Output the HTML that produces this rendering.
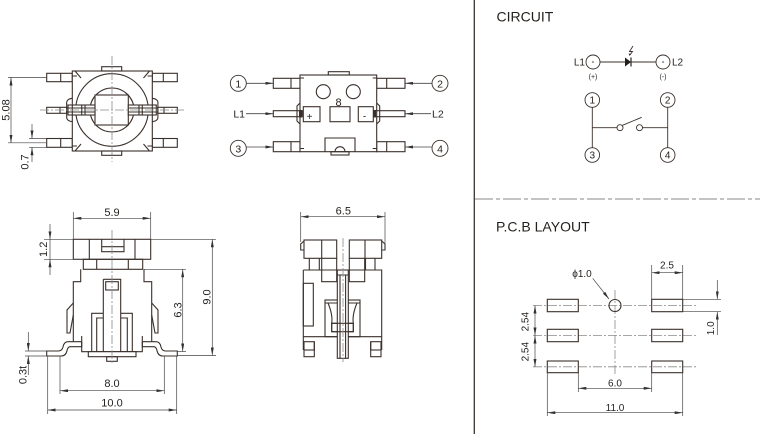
<!DOCTYPE html>
<html><head><meta charset="utf-8"><style>
html,body{margin:0;padding:0;background:#fff;}
svg{display:block}
text{font-family:"Liberation Sans",Arial,sans-serif;fill:#231f1c}
</style></head><body>
<svg width="760" height="434" viewBox="0 0 760 434" xmlns="http://www.w3.org/2000/svg">
<defs>
<marker id="a" viewBox="0 0 8 3" refX="8" refY="1.5" markerWidth="8" markerHeight="3" markerUnits="userSpaceOnUse" orient="auto-start-reverse"><path d="M0,0L8,1.5L0,3z" fill="#333"/></marker>
</defs>

<!-- dividers -->
<line x1="474.3" y1="0" x2="474.3" y2="434" stroke="#3a302b" stroke-width="1.3"/>
<line x1="475" y1="199" x2="760" y2="199" stroke="#8a8a8a" stroke-width="1" stroke-dasharray="18 3 4 3"/>

<!-- ============ TOP-LEFT VIEW ============ -->
<g fill="none" stroke="#3a302b" stroke-width="1.1">
  <rect x="46.7" y="73.3" width="25.6" height="8.4"/><line x1="60.7" y1="73.3" x2="60.7" y2="81.7"/>
  <rect x="152.3" y="73.3" width="25" height="8.4"/><line x1="163.3" y1="73.3" x2="163.3" y2="81.7"/>
  <rect x="46.7" y="138.5" width="25.6" height="8.8"/><line x1="60.7" y1="138.5" x2="60.7" y2="147.3"/>
  <rect x="152.3" y="138.5" width="25" height="8.8"/><line x1="163.3" y1="138.5" x2="163.3" y2="147.3"/>
  <rect x="72.3" y="71" width="80" height="80" fill="#fff"/>
  <rect x="101.7" y="66.7" width="20" height="4.3"/>
  <rect x="101.7" y="151" width="20" height="4.3"/>
  <path d="M75,71 L81,78 M149.5,71 L143.5,78 M75,151 L81,144 M149.5,151 L143.5,144"/>
  <path d="M72.3,76 H77 M147.5,76 H152.3 M72.3,146 H77 M147.5,146 H152.3"/>
  <circle cx="112" cy="110" r="36.3"/>
  <circle cx="112" cy="110" r="22"/>
  <rect x="95" y="95" width="33.3" height="30" fill="#fff"/>
  <!-- LED pins -->
  <rect x="46.7" y="107.3" width="20" height="6"/><line x1="60" y1="107.3" x2="60" y2="113.3"/>
  <rect x="157.7" y="107.3" width="19.6" height="6"/><line x1="164" y1="107.3" x2="164" y2="113.3"/>
  <path d="M72.3,98.3 Q66,99 66.7,104 V116 Q66,121 72.3,121.7"/>
  <path d="M152.3,98.3 Q158.6,99 157.9,104 V116 Q158.6,121 152.3,121.7"/>
  <rect x="68" y="105" width="27" height="10" fill="#fff"/>
  <path d="M68,108 H95 M68,112 H95 M81.7,105 V115 M85,105 V115 M72.3,105 V115"/>
  <rect x="128.3" y="105" width="28" height="10" fill="#fff"/>
  <path d="M128.3,108 H156.3 M128.3,112 H156.3 M139,105 V115 M142.3,105 V115 M152.3,105 V115"/>
</g>
<g fill="none" stroke="#8a8a8a" stroke-width="0.8" stroke-dasharray="9 2 2 2">
  <line x1="40" y1="110" x2="185" y2="110"/>
  <line x1="112" y1="56" x2="112" y2="162"/>
</g>
<g fill="none" stroke="#444" stroke-width="0.7">
  <line x1="8" y1="77.5" x2="46.7" y2="77.5"/>
  <line x1="8" y1="142.8" x2="46.7" y2="142.8"/>
  <line x1="11" y1="77.5" x2="11" y2="142.8" marker-start="url(#a)" marker-end="url(#a)"/>
  <line x1="29" y1="138.5" x2="46.7" y2="138.5"/>
  <line x1="29" y1="147.3" x2="46.7" y2="147.3"/>
  <line x1="32" y1="124" x2="32" y2="138.5" marker-end="url(#a)"/>
  <line x1="32" y1="162" x2="32" y2="147.3" marker-end="url(#a)"/>
</g>
<text font-size="11" text-anchor="middle" transform="translate(9.5,110) rotate(-90)">5.08</text>
<text font-size="11" text-anchor="middle" transform="translate(28.5,162) rotate(-90)">0.7</text>

<!-- ============ TOP-MIDDLE VIEW ============ -->
<g fill="none" stroke="#3a302b" stroke-width="1.1">
  <rect x="273.3" y="78.3" width="26.7" height="10"/><line x1="291" y1="78.3" x2="291" y2="88.3"/>
  <rect x="376.7" y="78.3" width="28.3" height="10"/><line x1="386.7" y1="78.3" x2="386.7" y2="88.3"/>
  <rect x="273.3" y="141.7" width="26.7" height="10"/><line x1="291" y1="141.7" x2="291" y2="151.7"/>
  <rect x="376.7" y="141.7" width="28.3" height="10"/><line x1="386.7" y1="141.7" x2="386.7" y2="151.7"/>
  <rect x="300" y="75" width="76.7" height="76.7" fill="#fff"/>
  <rect x="328.3" y="71.7" width="21" height="3.3"/>
  <path d="M300,78 H304 M372.7,78 H376.7 M300,148.5 H304 M372.7,148.5 H376.7"/>
  <path d="M300,103 L297,106 V121 L300,124 M376.7,103 L379.7,106 V121 L376.7,124"/>
  <circle cx="323.3" cy="91.7" r="7"/>
  <circle cx="353.3" cy="91.7" r="7"/>
  <rect x="303.3" y="106.7" width="16.7" height="15"/>
  <rect x="330" y="106.7" width="20" height="15"/>
  <rect x="358.3" y="106.7" width="15" height="15"/>
  <rect x="273.3" y="110.7" width="29" height="6"/>
  <rect x="374" y="110.7" width="31" height="6"/>
  <path d="M325,151.7 V138 H355 V151.7"/>
  <path d="M335,151.7 A5,5 0 0 1 345,151.7"/>
  <rect x="331" y="151.7" width="18" height="3.3"/>
</g>
<rect x="299" y="110" width="3" height="7.5" fill="#3a302b"/>
<rect x="373" y="110" width="3" height="7.5" fill="#3a302b"/>
<text x="338.5" y="106" font-size="11" text-anchor="middle">8</text>
<text x="309.5" y="120" font-size="10" text-anchor="middle">+</text>
<text x="364.5" y="119.5" font-size="10" text-anchor="middle">-</text>
<g fill="none" stroke="#3a302b" stroke-width="0.9">
  <circle cx="238.3" cy="83.3" r="8"/>
  <circle cx="440" cy="83.3" r="8"/>
  <circle cx="238.3" cy="148.3" r="8"/>
  <circle cx="440" cy="148.3" r="8"/>
</g>
<g fill="none" stroke="#444" stroke-width="0.8">
  <line x1="246.3" y1="83.3" x2="273.3" y2="83.3" marker-end="url(#a)"/>
  <line x1="432" y1="83.3" x2="405" y2="83.3" marker-end="url(#a)"/>
  <line x1="246.3" y1="147" x2="273.3" y2="147" marker-end="url(#a)"/>
  <line x1="432" y1="147" x2="405" y2="147" marker-end="url(#a)"/>
  <line x1="246" y1="113.7" x2="273.3" y2="113.7" marker-end="url(#a)"/>
  <line x1="431" y1="113.7" x2="405" y2="113.7" marker-end="url(#a)"/>
</g>
<g font-size="10.5" text-anchor="middle">
  <text x="238.3" y="87.3">1</text>
  <text x="440" y="87.3">2</text>
  <text x="238.3" y="152.3">3</text>
  <text x="440" y="152.3">4</text>
</g>
<text x="245" y="117.5" font-size="10.5" text-anchor="end">L1</text>
<text x="432" y="117.5" font-size="10.5">L2</text>

<!-- ============ BOTTOM-LEFT VIEW ============ -->
<g fill="none" stroke="#3a302b" stroke-width="1.1">
  <rect x="73.3" y="239.3" width="77.4" height="20"/>
  <path d="M89.3,239.3 V259.3 M135,239.3 V259.3"/>
  <path d="M101.7,239.3 V251.7 H124 V239.3 M101.7,246.7 H124"/>
  <rect x="83.3" y="259.3" width="59.4" height="10"/>
  <path d="M96.7,259.3 V269.3 M128.3,259.3 V269.3"/>
  <path d="M80.7,269.3 V281.7 H73.3 V341.7 M144,269.3 V281.7 H151.7 V341.7"/>
  <path d="M81.7,336 V351.7 H142.3 V336"/>
  <!-- feet -->
  <path d="M46.7,351 H58.3 Q62,351 63,347 Q64,341.7 68,341.7 H81.7 V346.7 H70 Q68,346.7 67,350.5 Q66,356 61,356 H46.7 Z"/>
  <path d="M177.3,351 H165.7 Q162,351 161,347 Q160,341.7 156,341.7 H142.3 V346.7 H154 Q156,346.7 157,350.5 Q158,356 163,356 H177.3 Z"/>
  <!-- levers -->
  <path d="M73.3,303 L67,310 V333 H70 L73.3,315"/>
  <path d="M151.7,303 L158,310 V333 H155 L151.7,315"/>
  <!-- stem -->
  <path d="M103.3,279.3 H120.7 V313.3 M103.3,279.3 V313.3"/>
  <rect x="105.7" y="281.7" width="12.6" height="8.3"/>
  <path d="M91.7,351.7 V313.3 H103.3 M120.7,313.3 H132.3 V351.7"/>
  <path d="M96.7,351.7 V318 H103.3 M120.7,318 H127.3 V351.7"/>
  <path d="M103.3,313.3 V351.7 M120.7,313.3 V351.7"/>
  <rect x="88.3" y="351.7" width="47.7" height="5" fill="#fff"/>
  <rect x="106.7" y="356.7" width="10.6" height="4.6"/>
</g>
<line x1="112" y1="230" x2="112" y2="365" stroke="#8a8a8a" stroke-width="0.8" stroke-dasharray="9 2 2 2"/>
<g fill="none" stroke="#444" stroke-width="0.7">
  <line x1="73.3" y1="212" x2="73.3" y2="239.3"/>
  <line x1="150.7" y1="212" x2="150.7" y2="239.3"/>
  <line x1="73.3" y1="218.3" x2="150.7" y2="218.3" marker-start="url(#a)" marker-end="url(#a)"/>
  <line x1="44" y1="239.3" x2="73.3" y2="239.3"/>
  <line x1="44" y1="259.3" x2="83.3" y2="259.3"/>
  <line x1="50" y1="224" x2="50" y2="239.3" marker-end="url(#a)"/>
  <line x1="50" y1="275" x2="50" y2="259.3" marker-end="url(#a)"/>
  <line x1="50" y1="239.3" x2="50" y2="259.3"/>
  <line x1="150.7" y1="239.3" x2="216" y2="239.3"/>
  <line x1="177.3" y1="355.5" x2="216" y2="355.5"/>
  <line x1="212.3" y1="239.3" x2="212.3" y2="355.5" marker-start="url(#a)" marker-end="url(#a)"/>
  <line x1="144" y1="269.3" x2="186" y2="269.3"/>
  <line x1="177.3" y1="351.5" x2="186" y2="351.5"/>
  <line x1="182.7" y1="269.3" x2="182.7" y2="351.5" marker-start="url(#a)" marker-end="url(#a)"/>
  <line x1="25" y1="351" x2="46.7" y2="351"/>
  <line x1="25" y1="356" x2="46.7" y2="356"/>
  <line x1="28.3" y1="332" x2="28.3" y2="351" marker-end="url(#a)"/>
  <line x1="28.3" y1="375" x2="28.3" y2="356" marker-end="url(#a)"/>
  <line x1="60" y1="356" x2="60" y2="394"/>
  <line x1="164.3" y1="356" x2="164.3" y2="394"/>
  <line x1="60" y1="390.7" x2="164.3" y2="390.7" marker-start="url(#a)" marker-end="url(#a)"/>
  <line x1="47.7" y1="356" x2="47.7" y2="414"/>
  <line x1="176.7" y1="356" x2="176.7" y2="414"/>
  <line x1="47.7" y1="410" x2="176.7" y2="410" marker-start="url(#a)" marker-end="url(#a)"/>
</g>
<g font-size="11" text-anchor="middle">
  <text x="112" y="216">5.9</text>
  <text x="112" y="387">8.0</text>
  <text x="112" y="406.5">10.0</text>
  <text transform="translate(47,249.3) rotate(-90)">1.2</text>
  <text transform="translate(210.5,297) rotate(-90)">9.0</text>
  <text transform="translate(181.5,310) rotate(-90)">6.3</text>
  <text transform="translate(26.5,375) rotate(-90)">0.3t</text>
</g>

<!-- ============ BOTTOM-MIDDLE VIEW ============ -->
<g fill="none" stroke="#3a302b" stroke-width="1.1">
  <rect x="304" y="240" width="32.7" height="18.3"/><line x1="321.7" y1="240" x2="321.7" y2="258.3"/>
  <rect x="349.3" y="240" width="32.4" height="18.3"/><line x1="365" y1="240" x2="365" y2="258.3"/>
  <path d="M304,241 L300.7,244 V250 H304 M381.7,241 L385,244 V250 H381.7"/>
  <path d="M309.3,258.3 V270 M319.3,258.3 V270 M321.7,258.3 V281.7 H336.7 V258.3"/>
  <path d="M375,258.3 V270 M365.5,258.3 V270 M364.7,258.3 V281.7 H349.3 V258.3"/>
  <path d="M303.3,270 H381.7 V350 M303.3,270 V350"/>
  <rect x="303.3" y="283.3" width="10" height="42.7"/>
  <path d="M303.3,336.7 H381.7"/>
  <rect x="325" y="300" width="35" height="36.7"/>
  <path d="M328,303 Q333,315 331.7,323.3 M357,303 Q352,315 353.3,323.3 M325,303 H360"/>
  <rect x="331.7" y="323.3" width="21.6" height="8.4" fill="#fff"/>
  <rect x="304" y="341.7" width="10.3" height="15"/><line x1="304" y1="350" x2="314.3" y2="350"/>
  <rect x="370.7" y="341.7" width="10.3" height="15"/><line x1="370.7" y1="350" x2="381" y2="350"/>
  <path d="M314.3,350 V341.7 M370.7,350 V341.7"/>
  <rect x="337.3" y="270" width="11" height="88.3" fill="#fff"/>
  <path d="M340,275 V358.3 M345.6,275 V358.3 M337.3,275 H348.3"/>
  <rect x="331.7" y="323.3" width="21.6" height="8.4"/>
</g>
<line x1="343" y1="238" x2="343" y2="362" stroke="#8a8a8a" stroke-width="0.8" stroke-dasharray="9 2 2 2"/>
<g fill="none" stroke="#444" stroke-width="0.7">
  <line x1="300.7" y1="212" x2="300.7" y2="242"/>
  <line x1="385" y1="212" x2="385" y2="244"/>
  <line x1="300.7" y1="216.7" x2="385" y2="216.7" marker-start="url(#a)" marker-end="url(#a)"/>
</g>
<text x="343.3" y="214.5" font-size="11" text-anchor="middle">6.5</text>

<!-- ============ CIRCUIT ============ -->
<text x="496.5" y="21.7" font-size="14">CIRCUIT</text>
<g fill="none" stroke="#3a302b" stroke-width="0.9">
  <circle cx="593" cy="62" r="7"/>
  <circle cx="663" cy="62" r="7"/>
  <line x1="600" y1="62" x2="625" y2="62"/>
  <line x1="631" y1="62" x2="656" y2="62"/>
  <line x1="631" y1="57.5" x2="631" y2="66.5" stroke-width="1.3"/>
  <path d="M633,46 L629.5,51.5 L632.5,51.5 L629.5,55.5"/>
  <circle cx="592.3" cy="100" r="7.3"/>
  <circle cx="667.7" cy="100" r="7.3"/>
  <circle cx="592.3" cy="155" r="7.3"/>
  <circle cx="667.7" cy="155" r="7.3"/>
  <line x1="592.3" y1="107.3" x2="592.3" y2="147.7"/>
  <line x1="667.7" y1="107.3" x2="667.7" y2="147.7"/>
  <line x1="592.3" y1="127.7" x2="617" y2="127.7"/>
  <circle cx="620" cy="127.7" r="3"/>
  <circle cx="639.5" cy="127.7" r="3"/>
  <line x1="642.5" y1="127.7" x2="667.7" y2="127.7"/>
  <line x1="622.5" y1="125.3" x2="641.7" y2="117.3"/>
</g>
<path d="M625,57.5 L631,62 L625,66.5 Z" fill="#231f1c"/>
<path d="M629.5,55.5 L628.5,53.5 L631,54 Z" fill="#231f1c"/>
<circle cx="593" cy="62" r="0.8" fill="#333"/>
<circle cx="663" cy="62" r="0.8" fill="#333"/>
<text x="585" y="65.5" font-size="10" text-anchor="end">L1</text>
<text x="672" y="65.5" font-size="10">L2</text>
<text x="593" y="79" font-size="7" text-anchor="middle">(+)</text>
<text x="663" y="79" font-size="7" text-anchor="middle">(-)</text>
<g font-size="10" text-anchor="middle">
  <text x="592.3" y="103.6">1</text>
  <text x="667.7" y="103.6">2</text>
  <text x="592.3" y="158.6">3</text>
  <text x="667.7" y="158.6">4</text>
</g>

<!-- ============ PCB LAYOUT ============ -->
<text x="496" y="231.7" font-size="14">P.C.B LAYOUT</text>
<g fill="none" stroke="#8a8a8a" stroke-width="0.8" stroke-dasharray="9 2 2 2">
  <line x1="533" y1="305.5" x2="697" y2="305.5"/>
  <line x1="533" y1="335.5" x2="697" y2="335.5"/>
  <line x1="533" y1="366.8" x2="697" y2="366.8"/>
  <line x1="615" y1="290" x2="615" y2="376"/>
</g>
<g fill="none" stroke="#3a302b" stroke-width="1.1">
  <rect x="547.3" y="299.3" width="31" height="12.4"/>
  <rect x="547.3" y="329.3" width="31" height="12.4"/>
  <rect x="547.3" y="361" width="31" height="11.7"/>
  <rect x="651.7" y="299.3" width="31" height="12.4"/>
  <rect x="651.7" y="329.3" width="31" height="12.4"/>
  <rect x="651.7" y="361" width="31" height="11.7"/>
  <circle cx="615" cy="305.5" r="6"/>
</g>
<g fill="none" stroke="#444" stroke-width="0.7">
  <line x1="592.7" y1="278.3" x2="609" y2="299" marker-end="url(#a)"/>
  <line x1="651.7" y1="265" x2="651.7" y2="299.3"/>
  <line x1="682.7" y1="265" x2="682.7" y2="299.3"/>
  <line x1="651.7" y1="272.7" x2="682.7" y2="272.7" marker-start="url(#a)" marker-end="url(#a)"/>
  <line x1="682.7" y1="299.3" x2="721" y2="299.3"/>
  <line x1="682.7" y1="311.7" x2="721" y2="311.7"/>
  <line x1="717.3" y1="280" x2="717.3" y2="299.3" marker-end="url(#a)"/>
  <line x1="717.3" y1="335" x2="717.3" y2="311.7" marker-end="url(#a)"/>
  <line x1="535" y1="305.5" x2="535" y2="335.5" marker-start="url(#a)" marker-end="url(#a)"/>
  <line x1="535" y1="335.5" x2="535" y2="366.8" marker-start="url(#a)" marker-end="url(#a)"/>
  <line x1="578.3" y1="372.7" x2="578.3" y2="392"/>
  <line x1="651.7" y1="372.7" x2="651.7" y2="392"/>
  <line x1="578.3" y1="388.3" x2="651.7" y2="388.3" marker-start="url(#a)" marker-end="url(#a)"/>
  <line x1="547.3" y1="372.7" x2="547.3" y2="416"/>
  <line x1="682.7" y1="372.7" x2="682.7" y2="416"/>
  <line x1="547.3" y1="412.7" x2="682.7" y2="412.7" marker-start="url(#a)" marker-end="url(#a)"/>
</g>
<g font-size="10" text-anchor="middle">
  <text x="582" y="277">ϕ1.0</text>
  <text x="667" y="268.5">2.5</text>
  <text x="615" y="386.7">6.0</text>
  <text x="615" y="411">11.0</text>
  <text transform="translate(528.5,321.7) rotate(-90)">2.54</text>
  <text transform="translate(528.5,351.7) rotate(-90)">2.54</text>
  <text transform="translate(714,328.3) rotate(-90)">1.0</text>
</g>
</svg>
</body></html>
